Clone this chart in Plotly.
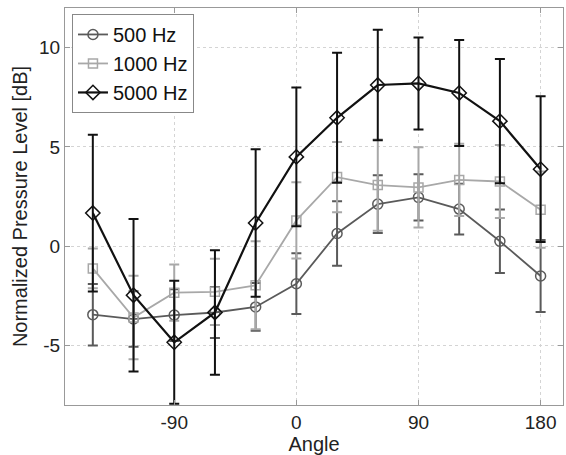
import plotly.graph_objects as go

angles = [-150, -120, -90, -60, -30, 0, 30, 60, 90, 120, 150, 180]

hz500 = [-3.45, -3.67, -3.47, -3.34, -3.06, -1.89, 0.64, 2.12, 2.46, 1.87, 0.25, -1.50]
hz500_err = [1.55, 1.40, 1.30, 1.29, 1.20, 1.53, 1.62, 1.45, 1.17, 1.28, 1.60, 1.81]

hz1000 = [-1.12, -3.59, -2.34, -2.30, -1.97, 1.30, 3.48, 3.08, 2.96, 3.34, 3.26, 1.84]
hz1000_err = [1.00, 2.10, 1.42, 1.67, 2.22, 1.92, 1.77, 2.30, 2.02, 1.82, 1.84, 1.92]

hz5000 = [1.67, -2.47, -4.84, -3.34, 1.17, 4.50, 6.47, 8.12, 8.20, 7.72, 6.30, 3.88]
hz5000_err = [3.95, 3.84, 3.10, 3.13, 3.72, 3.50, 3.27, 2.78, 2.32, 2.67, 3.13, 3.67]

series_names = ["500 Hz", "1000 Hz", "5000 Hz"]
x_ticks = [-90, 0, 90, 180]
y_ticks = [-5, 0, 5, 10]

styles = [
    dict(color="#5a5a5a", symbol="circle-open", size=10, lw=1.8),
    dict(color="#a8a8a8", symbol="square-open", size=9, lw=1.8),
    dict(color="#111111", symbol="diamond-open", size=11, lw=2.2),
]
data = [(hz500, hz500_err), (hz1000, hz1000_err), (hz5000, hz5000_err)]

fig = go.Figure()
for name, (vals, errs), st in zip(series_names, data, styles):
    fig.add_trace(go.Scatter(
        x=angles, y=vals, name=name, mode="lines+markers",
        line=dict(color=st["color"], width=st["lw"]),
        marker=dict(symbol=st["symbol"], size=st["size"], color=st["color"],
                    line=dict(color=st["color"], width=1.5)),
        error_y=dict(type="data", array=errs, visible=True, width=5,
                     thickness=2, color=st["color"]),
    ))

font_family = "Liberation Sans, Arial, sans-serif"
fig.update_layout(
    width=566, height=455,
    margin=dict(l=65, r=3, t=8, b=50),
    paper_bgcolor="white", plot_bgcolor="white",
    font=dict(family=font_family, size=19, color="#222222"),
    showlegend=True,
    legend=dict(x=0.014, y=0.985, xanchor="left", yanchor="top",
                bgcolor="white", bordercolor="#888888", borderwidth=1,
                font=dict(size=20, color="#111111"),
                tracegroupgap=0, itemwidth=30),
)
fig.update_xaxes(
    range=[-170.5, 196.5], tickvals=x_ticks, ticktext=[str(v) for v in x_ticks],
    showgrid=True, gridcolor="#d4d4d4", griddash="dot", gridwidth=1,
    showline=True, linecolor="#999999", linewidth=1, mirror="ticks",
    ticks="inside", ticklen=5, tickcolor="#999999", zeroline=False,
    automargin=False,
    title=dict(text="Angle", standoff=0, font=dict(size=20)),
    tickfont=dict(size=19),
)
fig.update_yaxes(
    range=[-8, 12], tickvals=y_ticks, ticktext=[str(v) for v in y_ticks],
    showgrid=True, gridcolor="#d4d4d4", griddash="dot", gridwidth=1,
    showline=True, linecolor="#999999", linewidth=1, mirror="ticks",
    ticks="inside", ticklen=5, tickcolor="#999999", zeroline=False,
    automargin=False,
    title=dict(text="Normalized Pressure Level [dB]", standoff=6, font=dict(size=20)),
    tickfont=dict(size=19),
)

fig.write_html("out.html",
               config={"displayModeBar": False},
               post_script="document.body.style.margin='0';document.body.style.overflow='hidden';")
